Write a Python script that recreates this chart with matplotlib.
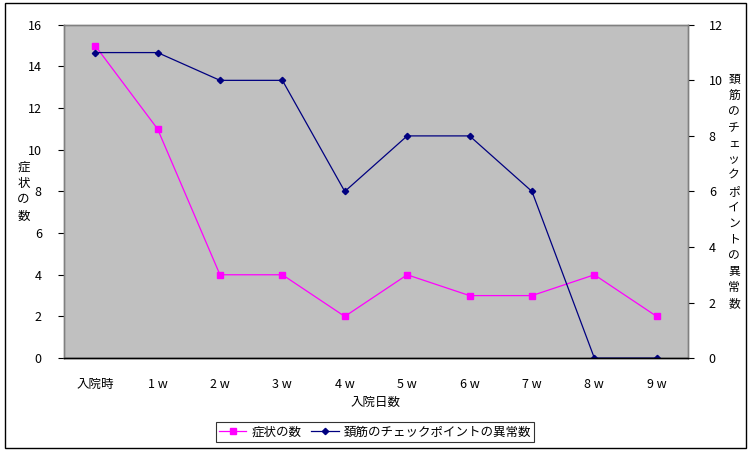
import matplotlib
matplotlib.use("Agg")
import matplotlib.pyplot as plt
from matplotlib.patches import Rectangle

plt.rcParams['font.family'] = ['Noto Sans CJK JP', 'DejaVu Sans']

categories = ["入院時", "1 w", "2 w", "3 w", "4 w", "5 w", "6 w", "7 w", "8 w", "9 w"]
symptoms = [15, 11, 4, 4, 2, 4, 3, 3, 4, 2]
neck_abn = [11, 11, 10, 10, 6, 8, 8, 6, 0, 0]

fig = plt.figure(figsize=(7.5, 4.51), dpi=100)
fig.patches.append(Rectangle((0.006, 0.006), 0.988, 0.988, transform=fig.transFigure,
                             fill=False, edgecolor='black', lw=1))
ax = fig.add_axes([0.0853, 0.206, 0.832, 0.739])
ax.set_facecolor('#C0C0C0')
x = list(range(len(categories)))

l1, = ax.plot(x, symptoms, '-s', color='#FF00FF', lw=0.9, ms=5, label='症状の数')
ax.set_ylim(0, 16)
ax.set_yticks(range(0, 17, 2))
ax.set_xlim(-0.5, len(categories) - 0.5)
ax.set_xticks(x)
ax.set_xticklabels(categories)
ax.tick_params(axis='x', length=0, pad=14, labelsize=9)
ax.tick_params(axis='y', length=4, labelsize=9, pad=12)
ax.set_xlabel("入院日数", fontsize=9, labelpad=4)
ax.text(-0.065, 0.5, "症\n状\nの\n数", transform=ax.transAxes, fontsize=9,
        ha='center', va='center', linespacing=1.35)

ax2 = ax.twinx()
l2, = ax2.plot(x, neck_abn, '-D', color='#000080', lw=0.9, ms=3.2, label='頚筋のチェックポイントの異常数')
ax2.set_ylim(0, 12)
ax2.set_yticks(range(0, 13, 2))
ax2.tick_params(axis='y', length=4, labelsize=9, pad=11)
ax2.text(1.074, 0.5, "\n".join("頚筋のチェックポイントの異常数"), transform=ax2.transAxes,
         fontsize=8.5, ha='center', va='center', linespacing=1.3)

for a in (ax, ax2):
    for s in a.spines.values():
        s.set_color('#808080')
        s.set_linewidth(1)
    a.spines['bottom'].set_color('black')

leg = fig.legend(handles=[l1, l2], loc='center', bbox_to_anchor=(0.5, 0.042), ncol=2,
                 fontsize=9, frameon=True, fancybox=False, edgecolor='black',
                 handlelength=2.2, columnspacing=0.8, handletextpad=0.4,
                 borderpad=0.25, borderaxespad=0)
leg.get_frame().set_linewidth(0.8)

fig.savefig("out.png", dpi=100)
